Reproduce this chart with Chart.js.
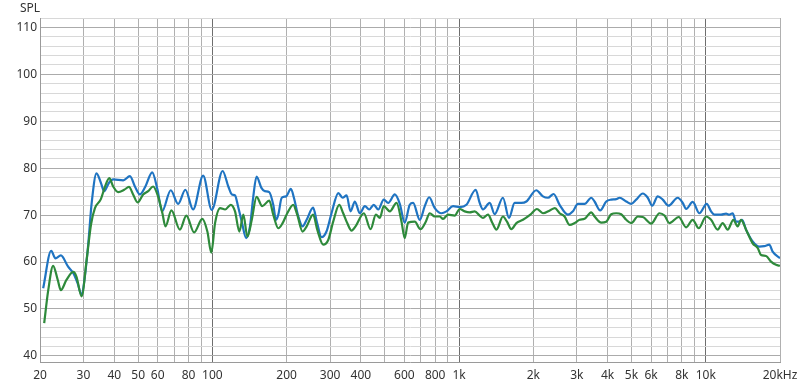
<!DOCTYPE html>
<html>
<head>
<meta charset="utf-8">
<script src="https://cdn.jsdelivr.net/npm/chart.js@4"></script>
<style>
html,body{margin:0;padding:0;background:#fff;}
#wrap{width:800px;height:387px;}
</style>
</head>
<body>
<div id="wrap"><canvas id="c" width="800" height="387"></canvas></div>
<script>
// ---- data (Hz, dB SPL) ----
const blueFreq = [20.6,22.2,23.1,24.3,26.0,27.3,28.4,29.5,30.4,31.4,32.4,33.9,35.3,36.4,38.1,39.6,43.5,46.3,48.5,50.8,53.5,57.0,59.9,62.5,67.8,72.6,77.7,83.5,91.7,99.4,110,116,120,123.5,127,131.5,137,142,146.5,151,158,163,170,176.5,181,185,191,199,208,214,223,232,241,256,265,277,290,304,324,337,350,363,378,396,415,432,451,470,495,516,549,575,602,631,651,693,726,756,797,848,889,945,1006,1071,1168,1212,1250,1331,1394,1506,1593,1680,1788,1874,2056,2187,2292,2417,2556,2762,2894,3032,3227,3434,3542,3734,3950,4138,4335,4472,4760,4988,5224,5556,5821,6065,6390,6694,7060,7698,8066,8326,8854,9426,10090,10512,10840,11538,12088,12466,12856,13270,13686,14036,14568,15494,16490,17280,18104,18672,20000];
const blueSpl = [54.4,62.4,60.8,61.4,59.0,57.6,55.5,53.0,56.9,64.0,72.6,78.9,76.9,75.1,76.9,77.6,77.4,78.3,76.1,74.4,76.1,79.1,75.4,70.8,75.3,72.4,75.4,71.2,78.4,71.1,79.4,76.1,74.4,74.2,71.9,68.6,65.1,67.6,74.0,78.2,75.8,75.1,74.9,72.2,69.0,70.1,73.7,74.0,75.6,73.7,69.7,67.6,69.0,71.6,68.6,65.3,66.5,70.4,74.7,73.7,74.2,70.8,72.9,70.4,71.9,71.2,72.2,71.2,73.3,72.6,74.4,72.4,68.4,72.2,72.6,69.0,71.9,73.8,71.5,70.4,70.8,71.9,71.7,72.2,75.4,72.6,71.2,72.6,70.2,73.7,69.4,72.6,72.6,72.9,75.3,74.0,73.7,74.5,72.2,70.1,70.8,72.4,72.4,73.7,72.9,71.0,72.9,73.3,73.4,73.7,72.9,72.4,73.3,74.6,73.7,72.0,74.0,73.3,72.0,73.7,72.6,71.3,72.8,70.4,72.4,70.8,70.1,70.1,70.3,70.1,70.4,68.6,68.6,69.0,66.9,64.4,63.3,63.4,63.7,62.2,60.8];

const greenFreq = [20.8,21.6,22.6,23.6,24.3,25.6,27.3,28.1,29.5,30.9,32.2,33.4,35.3,36.7,38.2,39.6,41.5,43.9,45.9,47.7,49.7,52.4,54.9,57.5,60.2,62.7,64.5,68.2,73.8,78.4,84.3,91.0,95.4,99.0,102.5,107.4,112.6,118.7,123.5,128.6,133.5,138.6,144.4,151,159.2,170,176.5,185,192.6,201.1,212.6,220.7,232,241,256,266.1,281.4,294.8,308.8,326.6,339,352,366.6,380.4,411.1,437.7,460,477.4,495,523.9,557.8,584.3,602,621.4,661.3,697.4,732.8,760.7,797,834.8,861,902,960,1006,1054,1104,1157,1212,1250,1310,1365,1417,1506,1564,1629,1707,1815,1945,2068,2187,2333,2445,2556,2677,2806,2939,3080,3227,3434,3542,3771,3950,4138,4335,4543,4760,4988,5304,5556,6010,6493,6803,7126,7772,8326,8854,9366,10030,10512,11178,11710,12268,12940,13470,13906,14568,15494,16232,16754,17556,18394,19270,20000];
const greenSpl = [47.0,54.0,59.2,56.2,54.0,56.2,57.9,56.9,52.7,60.4,68.0,71.5,73.4,76.1,77.9,76.1,74.9,75.4,76.0,74.4,72.7,74.4,75.1,76.1,74.0,70.4,67.6,71.0,66.9,69.9,66.3,69.2,66.5,62.0,68.3,71.5,71.2,72.2,70.8,66.5,70.1,65.4,69.0,73.9,71.9,73.1,70.1,67.2,68.3,70.4,72.2,70.1,66.5,67.6,70.1,66.9,63.7,64.7,68.6,72.2,70.4,68.3,66.7,67.6,70.4,67.0,70.1,69.4,71.9,70.8,72.6,68.6,65.1,68.4,68.6,67.0,68.6,70.4,69.7,69.7,69.2,70.1,69.9,71.3,70.8,70.6,70.8,69.9,69.4,70.1,68.3,66.9,69.7,68.6,67.0,68.3,69.0,70.1,71.3,70.4,71.0,71.5,70.4,69.7,67.9,68.3,69.0,69.2,70.6,69.7,68.4,68.6,70.2,70.4,70.2,69.0,68.3,69.7,69.6,68.2,70.4,69.9,68.3,69.6,67.4,69.0,67.2,69.7,69.0,66.9,68.3,66.9,69.0,67.6,69.0,66.9,64.0,63.0,61.5,61.3,60.1,59.4,59.2];

// ---- axis ticks ----
const xTicks = [20,30,40,50,60,70,80,90,100,200,300,400,500,600,700,800,900,1000,2000,3000,4000,5000,6000,7000,8000,9000,10000,20000];
const xLabelValues = [20,30,40,50,60,80,100,200,300,400,600,800,1000,2000,3000,4000,5000,6000,8000,10000,20000];
const xLabelTexts = ['20','30','40','50','60','80','100','200','300','400','600','800','1k','2k','3k','4k','5k','6k','8k','10k','20kHz'];
const yTicks = [40,42,44,46,48,50,52,54,56,58,60,62,64,66,68,70,72,74,76,78,80,82,84,86,88,90,92,94,96,98,100,102,104,106,108,110,112];
const yMin = 38.7, yMax = 112;

const toPts = (f, s) => f.map((v, i) => ({x: v, y: s[i]}));

const splTitle = {
  id: 'splTitle',
  afterDraw(chart) {
    const c = chart.ctx;
    c.save();
    c.font = '12px "Noto Sans"';
    c.fillStyle = '#333';
    c.textBaseline = 'middle';
    c.textAlign = 'left';
    c.fillText('SPL', 20, 9);
    c.restore();
  }
};

new Chart(document.getElementById('c'), {
  type: 'line',
  data: {
    datasets: [
      {label: 'A', data: toPts(greenFreq, greenSpl), borderColor: '#2e8a3b', borderWidth: 2.2, pointRadius: 0, cubicInterpolationMode: 'monotone', fill: false, order: 1},
      {label: 'B', data: toPts(blueFreq, blueSpl), borderColor: '#1f74c2', borderWidth: 2.2, pointRadius: 0, cubicInterpolationMode: 'monotone', fill: false, order: 2}
    ]
  },
  options: {
    responsive: false,
    animation: false,
    devicePixelRatio: 1,
    layout: {padding: {top: 18, right: 20, left: 0, bottom: 0}},
    plugins: {legend: {display: false}, tooltip: {enabled: false}},
    scales: {
      x: {
        type: 'logarithmic',
        min: 20, max: 20000,
        afterBuildTicks: s => { s.ticks = xTicks.map(v => ({value: v})); },
        afterFit: s => { s.height = 25; s.paddingLeft = 0; s.paddingRight = 0; },
        grid: {
          drawTicks: false,
          color: ctx => (ctx.tick && [100,1000,10000].includes(ctx.tick.value)) ? '#6e6e6e' : '#b0b0b0',
          lineWidth: 1
        },
        border: {color: '#9a9a9a'},
        ticks: {
          autoSkip: false, maxRotation: 0, minRotation: 0, padding: 6,
          color: '#333',
          font: {family: 'Noto Sans', size: 12},
          callback: (v) => { const i = xLabelValues.indexOf(v); return i >= 0 ? xLabelTexts[i] : ''; }
        }
      },
      y: {
        type: 'linear',
        min: yMin, max: yMax,
        afterBuildTicks: s => { s.ticks = yTicks.map(v => ({value: v})); },
        afterFit: s => { s.width = 40; s.paddingTop = 0; s.paddingBottom = 0; },
        grid: {
          drawTicks: false,
          color: ctx => (ctx.tick && ctx.tick.value % 10 === 0) ? '#ababab' : '#d8d8d8',
          lineWidth: 1
        },
        border: {color: '#9a9a9a'},
        ticks: {
          autoSkip: false, padding: 3,
          color: '#333',
          font: {family: 'Noto Sans', size: 12},
          callback: v => (v % 10 === 0) ? String(v) : ''
        }
      }
    }
  },
  plugins: [splTitle]
});
</script>
</body>
</html>
